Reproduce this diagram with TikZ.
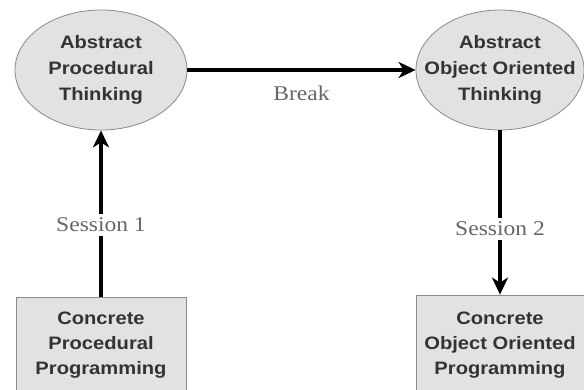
\documentclass[tikz,border=0pt]{standalone}
\usepackage{fontspec}
\setmainfont{Liberation Sans}[FakeStretch=1.12]
\newfontfamily\labelfont{Liberation Serif}[FakeStretch=1.12]
\usetikzlibrary{arrows.meta,shapes.geometric}
\definecolor{shapegray}{HTML}{E2E2E2}
\definecolor{edgegray}{HTML}{8A8A8A}
\definecolor{textgray}{HTML}{333333}
\definecolor{labelgray}{HTML}{666666}

\begin{document}
\begin{tikzpicture}[
        % Define block styles
        thought/.style={
        ellipse,
        draw=edgegray,
        fill=shapegray,
        line width=0.8pt,
        inner sep=0pt,
        minimum width=172pt,
        minimum height=120pt,
        text=textgray,
        align=center,
        font=\fontsize{18}{26}\selectfont\bfseries
        },
        practice/.style={
        rectangle,
        draw=edgegray,
        fill=shapegray,
        line width=0.8pt,
        inner sep=0pt,
        minimum width=170pt,
        minimum height=96pt,
        text=textgray,
        align=center,
        font=\fontsize{18}{25}\selectfont\bfseries
        },
        stage/.style={
        fill=white,
        text=labelgray,
        inner sep=4pt,
        font=\fontsize{21}{24}\selectfont\labelfont
        },
        link/.style={
        line width=4pt,
        -{Stealth[length=17pt,width=16pt,inset=5pt]}
        }]
        \useasboundingbox (0,0) rectangle (584pt,389pt);
        % Nodes
        \node[thought] (absproc) at (101pt,319pt) {Abstract\\Procedural\\Thinking};
        \node[thought, right of=absproc, node distance=399pt, minimum width=168pt, inner xsep=-22pt] (absoo) {Abstract\\Object Oriented\\Thinking};
        \node[practice, below of=absproc, node distance=275pt] (concproc) {Concrete\\Procedural\\Programming};
        \node[practice, below of=absoo, node distance=275pt, minimum width=168pt, minimum height=100pt] (concoo) {Concrete\\Object Oriented\\Programming};

        % Arrows
        \draw[link] (absproc) -- node[stage, pos=0.5, yshift=-23pt, fill=none] {Break} (absoo);
        \draw[link] (concproc) -- node[stage, pos=0.43] {Session 1} (absproc);
        \draw[link] (absoo) -- node[stage, pos=0.6] {Session 2} (concoo);
    \end{tikzpicture}
\end{document}
